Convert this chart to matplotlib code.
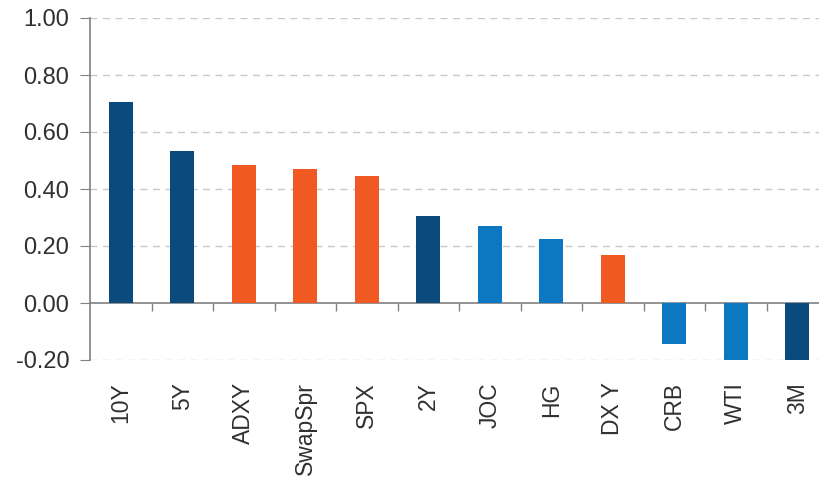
import matplotlib.pyplot as plt

# Datos del gráfico
labels = ['10Y', '5Y', 'ADXY', 'SwapSpr', 'SPX', '2Y', 'JOC', 'HG', 'DX Y', 'CRB', 'WTI', '3M']
values = [0.705, 0.532, 0.485, 0.470, 0.444, 0.304, 0.271, 0.225, 0.169, -0.143, -0.205, -0.205]
groups = ['rates', 'rates', 'fx', 'fx', 'fx', 'rates', 'cmdty', 'cmdty', 'fx', 'cmdty', 'cmdty', 'rates']

colors = {'rates': '#0B4A7D', 'fx': '#F05A22', 'cmdty': '#0B78C1'}

plt.rcParams['font.family'] = ['Liberation Sans', 'DejaVu Sans']

fig = plt.figure(figsize=(8.19, 4.8), dpi=100)
ax = fig.add_axes([90 / 819, 1 - 360 / 480, 738 / 819, 342 / 480])

x = list(range(len(labels)))
ax.bar(x, values, width=0.39, color=[colors[g] for g in groups], zorder=3)

ax.set_xlim(-0.5, len(labels) - 0.5)
ax.set_ylim(-0.2, 1.0)
ax.set_yticks([-0.2, 0.0, 0.2, 0.4, 0.6, 0.8, 1.0])
ax.set_yticklabels(['%.2f' % v for v in ax.get_yticks()])

# Líneas de cuadrícula punteadas
for v in [-0.2, 0.2, 0.4, 0.6, 0.8, 1.0]:
    ax.axhline(v, color='#C8C8C8', lw=1, ls=(0, (5, 4)), zorder=1)

# Eje en cero con marcas entre categorías
sec = ax.secondary_xaxis(1 / 6)
sec.set_xticks([i + 0.5 for i in range(len(labels) - 1)])
sec.set_xticklabels([])
sec.tick_params(direction='out', length=6, color='#808080', width=1)
sec.spines['bottom'].set_color('#808080')
sec.spines['bottom'].set_linewidth(1.2)

ax.set_xticks(x)
ax.set_xticklabels(labels, rotation=90, va='top')
ax.tick_params(axis='x', length=0, pad=16, labelsize=16.5, labelcolor='#303030')
ax.tick_params(axis='y', length=7, color='#808080', pad=8, labelsize=17, labelcolor='#303030')

for s in ['top', 'right', 'bottom']:
    ax.spines[s].set_visible(False)
ax.spines['left'].set_color('#808080')
ax.spines['left'].set_linewidth(1.2)

fig.savefig('out.png', dpi=100)
